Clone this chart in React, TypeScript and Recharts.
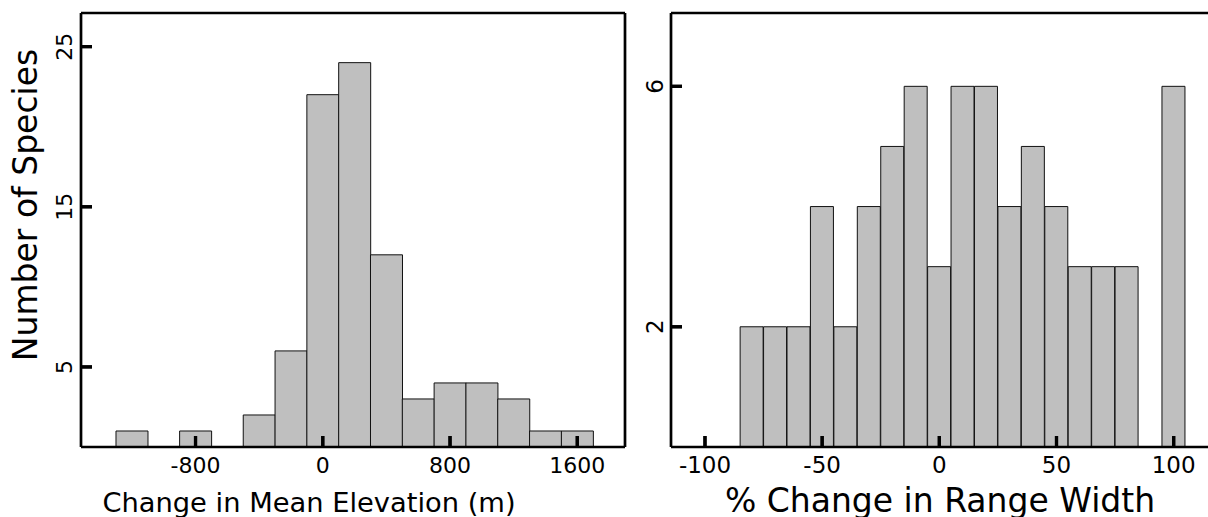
import React from 'react';
import { BarChart, Bar, XAxis, YAxis } from 'recharts';

// Left panel: change in mean elevation (m), bin centres and species counts
const elevBins = [-1200, -1000, -800, -600, -400, -200, 0, 200, 400, 600, 800, 1000, 1200, 1400, 1600];
const elevCounts = [1, 0, 1, 0, 2, 6, 22, 24, 12, 3, 4, 4, 3, 1, 1];
const elevXTicks = [-800, 0, 800, 1600];
const elevYTicks = [5, 15, 25];

// Right panel: % change in range width, bin centres and species counts
const widthBins = [-80, -70, -60, -50, -40, -30, -20, -10, 0, 10, 20, 30, 40, 50, 60, 70, 80, 90, 100];
const widthCounts = [2, 2, 2, 4, 2, 4, 5, 6, 3, 6, 6, 4, 5, 4, 3, 3, 3, 0, 6];
const widthXTicks = [-100, -50, 0, 50, 100];
const widthYTicks = [2, 6];

const elevData = elevBins.map((b, i) => ({ bin: b, count: elevCounts[i] }));
const widthData = widthBins.map((b, i) => ({ bin: b, count: widthCounts[i] }));

const FONT = '"DejaVu Sans", sans-serif';
const AXW = 2.7;
const TICKLEN = 11;
const TICKW = 3.2;

const makeXTick = (fs: number, dy: number) => (props: any) => {
  const { x, y, payload } = props;
  return (
    <g>
      <line x1={x} y1={y} x2={x} y2={y - TICKLEN} stroke="#000" strokeWidth={TICKW} />
      <text x={x} y={y + dy} textAnchor="middle" fontSize={fs} fontFamily={FONT} fill="#000">
        {String(payload.value)}
      </text>
    </g>
  );
};

const makeYTick = (fs: number, dx: number) => (props: any) => {
  const { x, y, payload } = props;
  const tx = x - dx;
  return (
    <g>
      <line x1={x} y1={y} x2={x + TICKLEN} y2={y} stroke="#000" strokeWidth={TICKW} />
      <g transform={`translate(${tx} ${y}) rotate(-90)`}>
        <text x={0} y={0} textAnchor="middle" fontSize={fs} fontFamily={FONT} fill="#000">
          {String(payload.value)}
        </text>
      </g>
    </g>
  );
};

const axisLine = { stroke: '#000', strokeWidth: AXW };
const tickLine = { stroke: '#000', strokeWidth: TICKW };

export default function App() {
  return (
    <div
      style={{
        position: 'absolute',
        left: 0,
        top: 0,
        width: 1208,
        height: 517,
        overflow: 'hidden',
        background: '#fff',
      }}
    >
      <div style={{ position: 'absolute', left: 0, top: 0 }}>
        <BarChart
          width={630}
          height={517}
          data={elevData}
          margin={{ top: 0, right: 0, bottom: 0, left: 0 }}
          barCategoryGap={0}
          barGap={0}
        >
          <Bar dataKey="count" fill="#bfbfbf" stroke="#111" strokeWidth={1} isAnimationActive={false} />
          <XAxis
            dataKey="bin"
            type="number"
            domain={[-1520, 1900]}
            ticks={elevXTicks}
            interval={0}
            height={70}
            tickSize={-TICKLEN}
            tickMargin={TICKLEN}
            tickLine={tickLine}
            axisLine={axisLine}
            tick={makeXTick(22, 26)}
          />
          <XAxis
            xAxisId="top"
            orientation="top"
            type="number"
            domain={[-1520, 1900]}
            height={13}
            tick={false}
            tickLine={false}
            axisLine={axisLine}
          />
          <YAxis
            type="number"
            domain={[0, 27.1]}
            ticks={elevYTicks}
            interval={0}
            width={81}
            tickSize={-TICKLEN}
            tickMargin={TICKLEN}
            tickLine={tickLine}
            axisLine={axisLine}
            tick={makeYTick(22, 9)}
          />
          <YAxis
            yAxisId="right"
            orientation="right"
            type="number"
            domain={[0, 27.1]}
            width={5}
            tick={false}
            tickLine={false}
            axisLine={axisLine}
          />
        </BarChart>
      </div>
      <div style={{ position: 'absolute', left: 590, top: 0 }}>
        <BarChart
          width={620}
          height={517}
          data={widthData}
          margin={{ top: 0, right: 0, bottom: 0, left: 0 }}
          barCategoryGap={0}
          barGap={0}
        >
          <Bar dataKey="count" fill="#bfbfbf" stroke="#111" strokeWidth={1} isAnimationActive={false} />
          <XAxis
            dataKey="bin"
            type="number"
            domain={[-114.5, 115.5]}
            ticks={widthXTicks}
            interval={0}
            height={70}
            tickSize={-TICKLEN}
            tickMargin={TICKLEN}
            tickLine={tickLine}
            axisLine={axisLine}
            tick={makeXTick(23, 26)}
          />
          <XAxis
            xAxisId="top"
            orientation="top"
            type="number"
            domain={[-114.5, 115.5]}
            height={13}
            tick={false}
            tickLine={false}
            axisLine={axisLine}
          />
          <YAxis
            type="number"
            domain={[0, 7.22]}
            ticks={widthYTicks}
            interval={0}
            width={81}
            tickSize={-TICKLEN}
            tickMargin={TICKLEN}
            tickLine={tickLine}
            axisLine={axisLine}
            tick={makeYTick(23, 8)}
          />
        </BarChart>
      </div>
      <svg
        width={1208}
        height={517}
        style={{ position: 'absolute', left: 0, top: 0, pointerEvents: 'none' }}
      >
        <text x={309} y={512} textAnchor="middle" fontSize={27.3} fontFamily={FONT} fill="#000">
          Change in Mean Elevation (m)
        </text>
        <text x={940} y={512} textAnchor="middle" fontSize={33} fontFamily={FONT} fill="#000">
          % Change in Range Width
        </text>
        <text
          x={37}
          y={205}
          transform="rotate(-90 37 205)"
          textAnchor="middle"
          fontSize={33}
          fontFamily={FONT}
          fill="#000"
        >
          Number of Species
        </text>
      </svg>
    </div>
  );
}
